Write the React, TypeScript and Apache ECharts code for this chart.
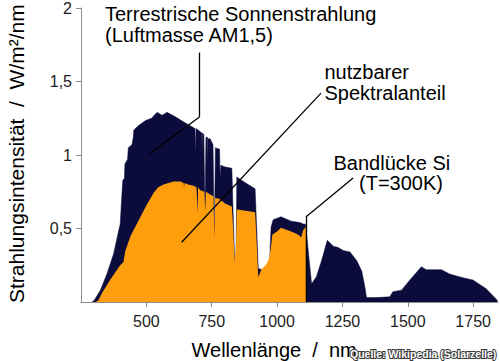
import React, { useEffect, useRef } from "react";
import * as echarts from "echarts";

// Total terrestrial spectrum (AM1.5), [wavelength nm, W/m²/nm]
const terrestrialSpectrum: [number, number][] = [
  [292, 0], [300, 0.01], [324, 0.08], [350, 0.195], [375, 0.33], [394, 0.485],
  [400, 0.53], [405, 0.69], [410, 0.83], [416, 0.84], [418, 0.94], [428, 0.97],
  [431, 1.05], [445, 1.07], [450, 1.12], [452, 1.17], [470, 1.20], [497, 1.235],
  [520, 1.25], [530, 1.27], [541, 1.29], [560, 1.27], [579, 1.29], [611, 1.26],
  [643, 1.225], [686, 1.18], [688, 1.0], [690, 1.18], [698, 1.17], [712, 1.15],
  [713, 1.0], [714, 1.15], [720, 1.14], [724, 0.62], [728, 1.12], [734, 1.12],
  [735, 0.95], [736, 1.11], [744, 1.11], [755, 1.07], [760, 0.43], [764, 1.05],
  [770, 1.045], [780, 1.04], [782, 0.85], [785, 0.93], [798, 0.92], [827, 0.91],
  [832, 0.6], [838, 0.27], [843, 0.27], [846, 0.85], [880, 0.81], [916, 0.77],
  [922, 0.5], [928, 0.23], [940, 0.22], [960, 0.22], [972, 0.30], [977, 0.51],
  [985, 0.56], [1015, 0.58], [1054, 0.55], [1088, 0.54], [1100, 0.53],
  [1108, 0.53], [1112, 0.48], [1122, 0.3], [1132, 0.125], [1150, 0.17],
  [1170, 0.28], [1192, 0.42], [1215, 0.38], [1234, 0.37], [1253, 0.35],
  [1279, 0.34], [1305, 0.28], [1324, 0.21], [1336, 0.10], [1342, 0.03],
  [1380, 0.03], [1431, 0.035], [1443, 0.07], [1476, 0.08], [1508, 0.15],
  [1552, 0.24], [1570, 0.22], [1629, 0.22], [1660, 0.19], [1711, 0.165],
  [1749, 0.15], [1800, 0.09], [1843, 0.01],
];

// Usable part for silicon (up to the band gap)
const usableSpectrum: [number, number][] = [
  [305, 0], [316, 0.01], [330, 0.06], [361, 0.15], [388, 0.22], [400, 0.25],
  [412, 0.27], [420, 0.35], [440, 0.45], [450, 0.485], [476, 0.575], [501, 0.66],
  [527, 0.74], [545, 0.78], [566, 0.80], [585, 0.81], [604, 0.82], [630, 0.82],
  [643, 0.81], [644, 0.78], [646, 0.81], [660, 0.8], [680, 0.79], [692, 0.78],
  [695, 0.6], [698, 0.78], [706, 0.76], [722, 0.75], [725, 0.62], [728, 0.75],
  [745, 0.73], [757, 0.72], [760, 0.43], [763, 0.71], [780, 0.70], [801, 0.67],
  [827, 0.65], [832, 0.5], [838, 0.27], [843, 0.4], [846, 0.63], [880, 0.62],
  [916, 0.61], [922, 0.4], [928, 0.17], [940, 0.22], [960, 0.26], [970, 0.30],
  [977, 0.38], [982, 0.46], [1000, 0.48], [1015, 0.505], [1054, 0.48],
  [1080, 0.46], [1092, 0.44], [1100, 0.49], [1110, 0.51], [1110, 0],
];

const bandGapNm = 1110;

// Annotation leader lines in data coordinates
const leaderSegments: [[number, number], [number, number]][] = [
  [[703, 1.697], [703, 1.259]],
  [[703, 1.259], [514, 1.01]],
  [[1168, 1.421], [635, 0.406]],
  [[1291, 0.844], [bandGapNm, 0.579]],
  [[bandGapNm, 0.579], [bandGapNm, 0]],
];

const xTicks = [500, 750, 1000, 1250, 1500, 1750];
const yTicks = [0.5, 1, 1.5, 2];

const FONT = "'Liberation Sans', Arial, sans-serif";
const NB = "\u00a0";

export default function App() {
  const ref = useRef<HTMLDivElement>(null);

  useEffect(() => {
    if (!ref.current) return;
    const chart = echarts.init(ref.current, undefined, { renderer: "svg" });
    const axisColor = "#8c8c8c";
    chart.setOption({
      animation: false,
      textStyle: { fontFamily: FONT },
      grid: { left: 81, right: 2, top: 5, bottom: 59 },
      xAxis: {
        type: "value",
        min: 250,
        max: 1845,
        interval: 250,
        axisLine: { lineStyle: { color: axisColor, width: 1 } },
        axisTick: {
          show: true,
          length: 5,
          customValues: xTicks,
          lineStyle: { color: axisColor },
        },
        axisLabel: {
          customValues: xTicks,
          fontSize: 16,
          color: "#222",
          margin: 11,
          fontFamily: FONT,
          formatter: (v: number) => (xTicks.includes(v) ? String(v) : ""),
        },
        splitLine: { show: false },
      },
      yAxis: {
        type: "value",
        min: 0,
        max: 2,
        interval: 0.5,
        axisLine: { show: true, lineStyle: { color: axisColor, width: 1 } },
        axisTick: {
          show: true,
          length: 5,
          customValues: yTicks,
          lineStyle: { color: axisColor },
        },
        axisLabel: {
          customValues: yTicks,
          fontSize: 16,
          color: "#222",
          margin: 9,
          fontFamily: FONT,
          formatter: (v: number) =>
            yTicks.includes(v) ? String(v).replace(".", ",") : "",
        },
        splitLine: { show: false },
      },
      series: [
        {
          type: "line",
          data: terrestrialSpectrum,
          showSymbol: false,
          symbol: "none",
          silent: true,
          z: 1,
          lineStyle: { width: 0.5, color: "#0c0c3c" },
          itemStyle: { color: "#0c0c3c" },
          areaStyle: { color: "#0c0c3c", opacity: 1 },
        },
        {
          type: "line",
          data: usableSpectrum,
          showSymbol: false,
          symbol: "none",
          silent: true,
          z: 2,
          lineStyle: { width: 0 },
          itemStyle: { color: "#ff9e0c" },
          areaStyle: { color: "#ff9e0c", opacity: 1 },
        },
        {
          type: "line",
          data: [],
          clip: false,
          silent: true,
          z: 3,
          markLine: {
            silent: true,
            symbol: ["none", "none"],
            label: { show: false },
            lineStyle: { color: "#000", width: 1.3, type: "solid" },
            emphasis: { disabled: true },
            animation: false,
            data: leaderSegments.map(([a, b]) => [{ coord: a }, { coord: b }]),
          },
        },
      ],
      graphic: [
        {
          type: "text",
          x: 105,
          y: 3,
          style: {
            text: "Terrestrische Sonnenstrahlung\n(Luftmasse AM1,5)",
            fontSize: 20,
            lineHeight: 21,
            fontFamily: FONT,
            fill: "#000",
            textAlign: "left",
            textVerticalAlign: "top",
          },
        },
        {
          type: "text",
          x: 324.5,
          y: 61,
          style: {
            text: "nutzbarer\nSpektralanteil",
            fontSize: 20,
            lineHeight: 21.5,
            fontFamily: FONT,
            fill: "#000",
            textAlign: "left",
            textVerticalAlign: "top",
          },
        },
        {
          type: "text",
          x: 333.5,
          y: 152,
          style: {
            text: "Bandlücke Si",
            fontSize: 20,
            lineHeight: 21,
            fontFamily: FONT,
            fill: "#000",
            textAlign: "left",
            textVerticalAlign: "top",
          },
        },
        {
          type: "text",
          x: 359,
          y: 172.6,
          style: {
            text: "(T=300K)",
            fontSize: 20,
            lineHeight: 21,
            fontFamily: FONT,
            fill: "#000",
            textAlign: "left",
            textVerticalAlign: "top",
          },
        },
        {
          type: "text",
          x: 191.5,
          y: 339.8,
          style: {
            text: `Wellenlänge${NB}${NB}/${NB}${NB}nm`,
            fontSize: 20,
            lineHeight: 20,
            fontFamily: FONT,
            fill: "#000",
            textAlign: "left",
            textVerticalAlign: "top",
          },
        },
        {
          type: "text",
          x: 16,
          y: 303,
          rotation: Math.PI / 2,
          style: {
            text: `Strahlungsintensität${NB}${NB}/${NB}${NB}W/m²/nm`,
            fontSize: 21,
            fontFamily: FONT,
            fill: "#000",
            textAlign: "left",
            textVerticalAlign: "middle",
          },
        },
        {
          type: "text",
          x: 350,
          y: 354,
          z: 10,
          style: {
            text: "Quelle: Wikipedia (Solarzelle)",
            fontSize: 10.5,
            fontWeight: "bold",
            fontFamily: FONT,
            fill: "#ffffff",
            stroke: "#3a3a3a",
            lineWidth: 2,
            textAlign: "left",
            textVerticalAlign: "middle",
          },
        },
      ],
    });
    return () => chart.dispose();
  }, []);

  return (
    <div
      ref={ref}
      style={{ position: "absolute", left: 0, top: 0, width: 500, height: 361 }}
    />
  );
}
